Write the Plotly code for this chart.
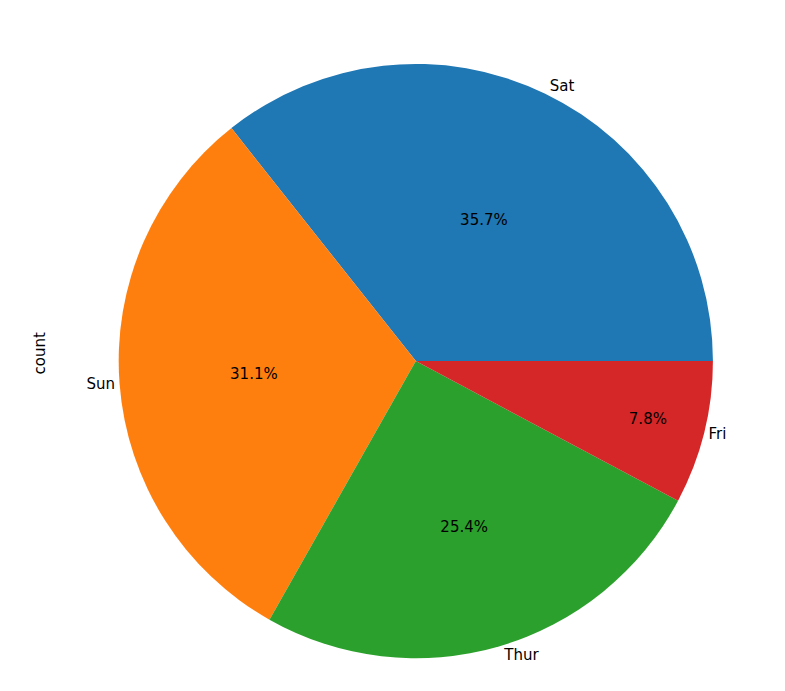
import plotly.graph_objects as go

days = ["Sat", "Sun", "Thur", "Fri"]
counts = [87, 76, 62, 19]
colors = ["#1f77b4", "#ff7f0e", "#2ca02c", "#d62728"]

# first slice starts at 3 o'clock and runs counterclockwise
rot = 90 - 360 * counts[0] / sum(counts)

dom = dict(x=[0.141, 0.898], y=[0.059, 0.919])

fig = go.Figure()
# slices with percentages inside
fig.add_trace(go.Pie(
    labels=days, values=counts, sort=False, direction="counterclockwise",
    rotation=rot, marker=dict(colors=colors), textinfo="percent",
    texttemplate="%{percent:.1%}", textposition="inside",
    insidetextorientation="horizontal",
    textfont=dict(color="black", size=15), domain=dom, showlegend=False,
))
# transparent copy for the outside labels
fig.add_trace(go.Pie(
    labels=days, values=counts, sort=False, direction="counterclockwise",
    rotation=rot, marker=dict(colors=["rgba(0,0,0,0)"] * 4),
    textinfo="label", textposition="outside",
    textfont=dict(color="black", size=15), domain=dom, showlegend=False,
    hoverinfo="skip",
))

fig.add_annotation(text="count", x=20 / 785, y=0.5, xref="paper", yref="paper",
                   textangle=-90, showarrow=False, font=dict(size=15, color="black"))

fig.update_layout(
    width=785, height=691, margin=dict(l=0, r=0, t=0, b=0),
    paper_bgcolor="white", font=dict(family="DejaVu Sans"),
)
fig.write_html("out.html")
